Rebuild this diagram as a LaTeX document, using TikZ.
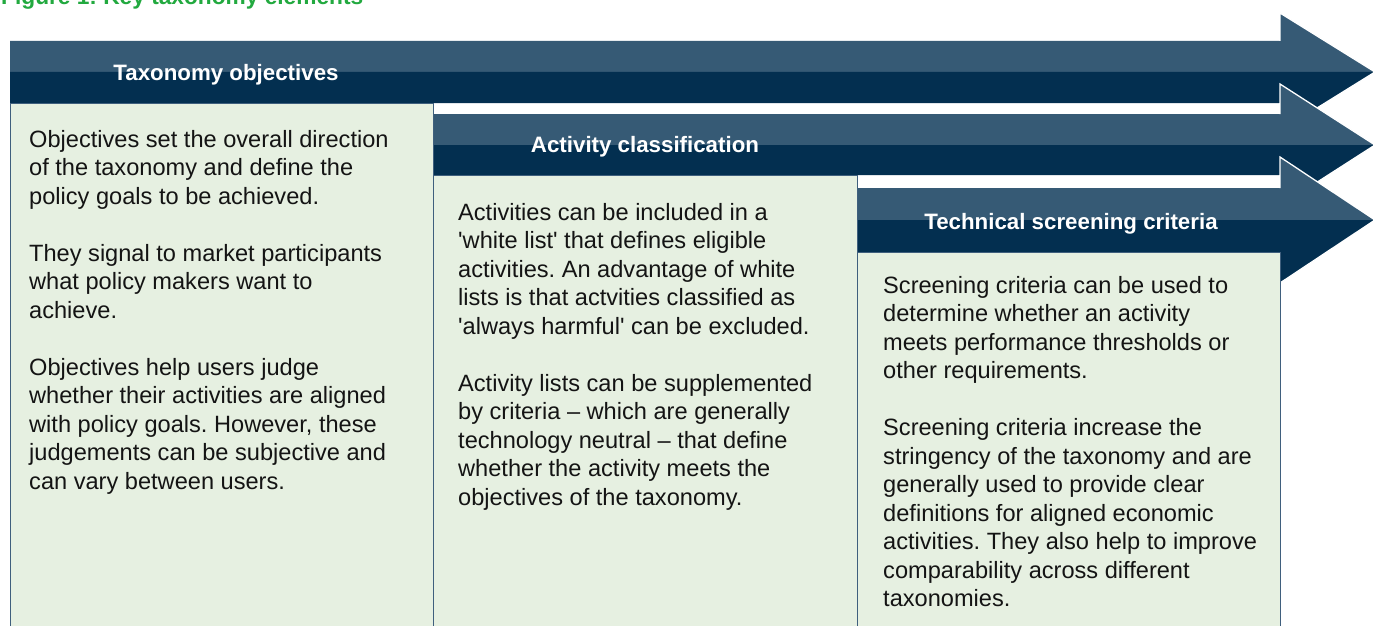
\documentclass[tikz,border=0pt]{standalone}
\usepackage{fontspec}
\setmainfont{Liberation Sans}
\frenchspacing
\definecolor{arrowlight}{HTML}{365A75}
\definecolor{arrowdark}{HTML}{032F50}
\definecolor{boxfill}{HTML}{E6F0E1}
\definecolor{boxline}{HTML}{3F5F7D}
\definecolor{titlegreen}{HTML}{22A93F}
\definecolor{bodytext}{HTML}{141414}
\newcommand\taxarrow[6]{%
  \fill[arrowlight] (#1,#3) -- (1280,#3) -- (1280,#2) -- (1375,#4) -- (#1,#4) -- cycle;
  \fill[arrowdark] (#1,#4) -- (1375,#4) -- (1280,#6) -- (1280,#5) -- (#1,#5) -- cycle;
  \draw[white, line width=1.3pt, line join=miter] (1280,#3) -- (1280,#2) -- (1375,#4) -- (1280,#6) -- (1280,#5);
}
\newcommand\bodypar[1]{\parbox[t]{410pt}{\frenchspacing\fontsize{23.6}{28.5}\selectfont\setlength{\parskip}{28.5pt}\raggedright #1}}
\tikzset{
  boxstyle/.style={fill=boxfill, draw=boxline, line width=1pt},
  headtext/.style={anchor=base, text=white, inner sep=0pt, font=\bfseries\fontsize{22.3}{26}\selectfont},
  bodytxt/.style={anchor=base west, inner sep=0pt, text=bodytext},
}
\begin{document}
\begin{tikzpicture}[x=1pt,y=-1pt]
\useasboundingbox (0,0) rectangle (1373,626);
\clip (0,0) rectangle (1373,626);
\fill[white] (0,0) rectangle (1373,626);

\node[anchor=base west, inner sep=0pt, text=titlegreen, font=\bfseries\fontsize{22.7}{27}\selectfont] (title) at (1,5) {Figure 1: Key taxonomy elements};

% arrows: x0, headtop, bodytop, mid, bodybottom, headbottom
\taxarrow{10}{13}{41}{72}{103}{131}
\taxarrow{433}{84}{114}{145}{175}{206}
\taxarrow{857}{157}{188}{220}{252}{283}

% boxes
\draw[boxstyle] (10,103) rectangle (433,640);
\draw[boxstyle] (433,175) rectangle (857,640);
\draw[boxstyle] (857,252) rectangle (1280,640);

% headers
\node[headtext] (h1) at (226,81) {Taxonomy objectives};
\node[headtext] (h2) at (645,152) {Activity classification};
\node[headtext] (h3) at (1071,229) {Technical screening criteria};

% body texts
\node[bodytxt] (b1) at (29,147) {\bodypar{Objectives set the overall direction\\
of the taxonomy and define the\\
policy goals to be achieved.\par
They signal to market participants\\
what policy makers want to\\
achieve.\par
Objectives help users judge\\
whether their activities are aligned\\
with policy goals. However, these\\
judgements can be subjective and\\
can vary between users.}};

\node[bodytxt] (b2) at (458,220) {\bodypar{Activities can be included in a\\
\textquotesingle white list\textquotesingle{} that defines eligible\\
activities. An advantage of white\\
lists is that actvities classified as\\
\textquotesingle always harmful\textquotesingle{} can be excluded.\par
Activity lists can be supplemented\\
by criteria – which are generally\\
technology neutral – that define\\
whether the activity meets the\\
objectives of the taxonomy.}};

\node[bodytxt] (b3) at (883,293) {\bodypar{Screening criteria can be used to\\
determine whether an activity\\
meets performance thresholds or\\
other requirements.\par
Screening criteria increase the\\
stringency of the taxonomy and are\\
generally used to provide clear\\
definitions for aligned economic\\
activities. They also help to improve\\
comparability across different\\
taxonomies.}};
\end{tikzpicture}
\end{document}
